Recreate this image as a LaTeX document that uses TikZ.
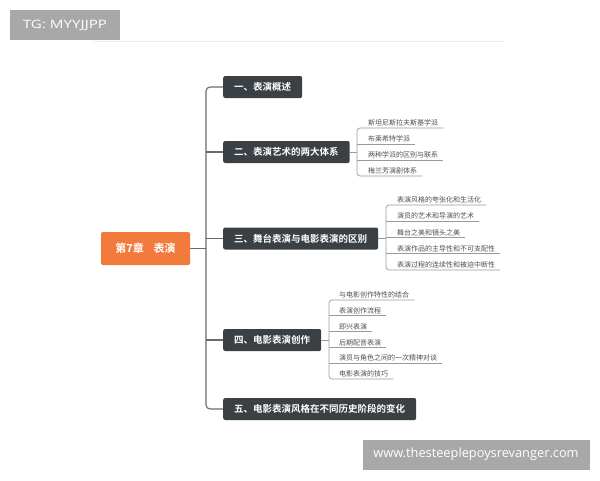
\documentclass[tikz,border=0pt]{standalone}
\usepackage{fontspec}
\usepackage{graphicx}
\newfontfamily\cjk{Noto Sans CJK SC}[BoldFont={Noto Sans CJK SC Bold}]
\newfontfamily\wmfont{Open Sans}
\definecolor{darkbox}{HTML}{3B4045}
\definecolor{orangebox}{HTML}{F27A3D}
\definecolor{trunkcol}{HTML}{6A6A6A}
\definecolor{ulcol}{HTML}{9A9A9A}
\definecolor{childtxt}{HTML}{505050}
\definecolor{wmgray}{HTML}{A8A8A8}
\begin{document}
\begin{tikzpicture}[x=1pt,y=-1pt,
  lone/.style={fill=darkbox, text=white, rounded corners=2pt,
    font=\cjk\bfseries\fontsize{9.5}{11}\selectfont,
    minimum height=22pt, inner xsep=11pt, inner ysep=0pt, anchor=west},
  child/.style={font=\cjk\fontsize{7}{8}\selectfont, text=childtxt,
    inner xsep=2pt, inner ysep=1.5pt, anchor=south west},
  trunk/.style={draw=trunkcol, line width=1.1pt},
  uline/.style={draw=ulcol, line width=0.7pt},
  wm/.style={fill=wmgray, text=white, inner sep=0pt, font=\wmfont}
]
\useasboundingbox[fill=white] (0,0) rectangle (600,480);
\draw[color=black!7, line width=0.6pt] (93,41) -- (505,41);

% watermarks
\node[wm, minimum width=110pt, minimum height=30pt] (wmtop) at (65,25)
  {\fontsize{11.5}{13}\selectfont\scalebox{1.32}[1]{TG: MYYJJPP}};
\node[wm, minimum width=227pt, minimum height=30pt] (wmbot) at (476,454.5)
  {\fontsize{12.8}{14}\selectfont www.thesteeplepoysrevanger.com};

% root
\node[fill=orangebox, text=white, rounded corners=2pt,
  font=\cjk\bfseries\fontsize{11}{13}\selectfont,
  minimum width=89pt, minimum height=33pt, inner sep=0pt] (root) at (145.5,248.5)
  {第7章\hspace{0.9em}表演};

% level 1
\node[lone] (b1) at (223,87) {一、表演概述};
\node[lone] (b2) at (223,152) {二、表演艺术的两大体系};
\node[lone] (b3) at (223,238.5) {三、舞台表演与电影表演的区别};
\node[lone] (b4) at (223,340) {四、电影表演创作};
\node[lone] (b5) at (223,409) {五、电影表演风格在不同历史阶段的变化};

% trunk
\coordinate (tr) at (206,0);
\draw[trunk, rounded corners=4pt] (b1.west) -- (b1.west -| tr) -- (b5.west -| tr) -- (b5.west);
\draw[trunk] (b2.west -| tr) -- (b2.west);
\draw[trunk] (b3.west -| tr) -- (b3.west);
\draw[trunk] (b4.west -| tr) -- (b4.west);
\draw[trunk] (root.east) -- (root.east -| tr);

% children of b2
\coordinate (bx2) at (357,0);
\node[child] (c21) at (366,128) {斯坦尼斯拉夫斯基学派};
\node[child] (c22) at (366,144) {布莱希特学派};
\node[child] (c23) at (366,160) {两种学派的区别与联系};
\node[child] (c24) at (366,176) {梅兰芳演剧体系};
\draw[uline] (b2.east) -- (b2.east -| bx2);
\draw[uline, rounded corners=3pt] ([xshift=3pt]c21.south east) -- (c21.south west -| bx2) -- (c24.south west -| bx2) -- ([xshift=3pt]c24.south east);
\draw[uline] (c22.south west -| bx2) -- ([xshift=3pt]c22.south east);
\draw[uline] (c23.south west -| bx2) -- ([xshift=3pt]c23.south east);

% children of b3
\coordinate (bx3) at (386,0);
\node[child] (c31) at (395,205) {表演风格的夸张化和生活化};
\node[child] (c32) at (395,221.2) {演员的艺术和导演的艺术};
\node[child] (c33) at (395,237.5) {舞台之美和镜头之美};
\node[child] (c34) at (395,253.7) {表演作品的主导性和不可支配性};
\node[child] (c35) at (395,270) {表演过程的连续性和被迫中断性};
\draw[uline] (b3.east) -- (b3.east -| bx3);
\draw[uline, rounded corners=3pt] ([xshift=3pt]c31.south east) -- (c31.south west -| bx3) -- (c35.south west -| bx3) -- ([xshift=3pt]c35.south east);
\draw[uline] (c32.south west -| bx3) -- ([xshift=3pt]c32.south east);
\draw[uline] (c33.south west -| bx3) -- ([xshift=3pt]c33.south east);
\draw[uline] (c34.south west -| bx3) -- ([xshift=3pt]c34.south east);

% children of b4
\coordinate (bx4) at (329,0);
\node[child] (c41) at (337,300) {与电影创作特性的结合};
\node[child] (c42) at (337,315.8) {表演创作流程};
\node[child] (c43) at (337,331.6) {即兴表演};
\node[child] (c44) at (337,347.4) {后期配音表演};
\node[child] (c45) at (337,363.2) {演员与角色之间的一次精神对谈};
\node[child] (c46) at (337,379) {电影表演的技巧};
\draw[uline] (b4.east) -- (b4.east -| bx4);
\draw[uline, rounded corners=3pt] ([xshift=3pt]c41.south east) -- (c41.south west -| bx4) -- (c46.south west -| bx4) -- ([xshift=3pt]c46.south east);
\draw[uline] (c42.south west -| bx4) -- ([xshift=3pt]c42.south east);
\draw[uline] (c43.south west -| bx4) -- ([xshift=3pt]c43.south east);
\draw[uline] (c44.south west -| bx4) -- ([xshift=3pt]c44.south east);
\draw[uline] (c45.south west -| bx4) -- ([xshift=3pt]c45.south east);
\end{tikzpicture}
\end{document}
